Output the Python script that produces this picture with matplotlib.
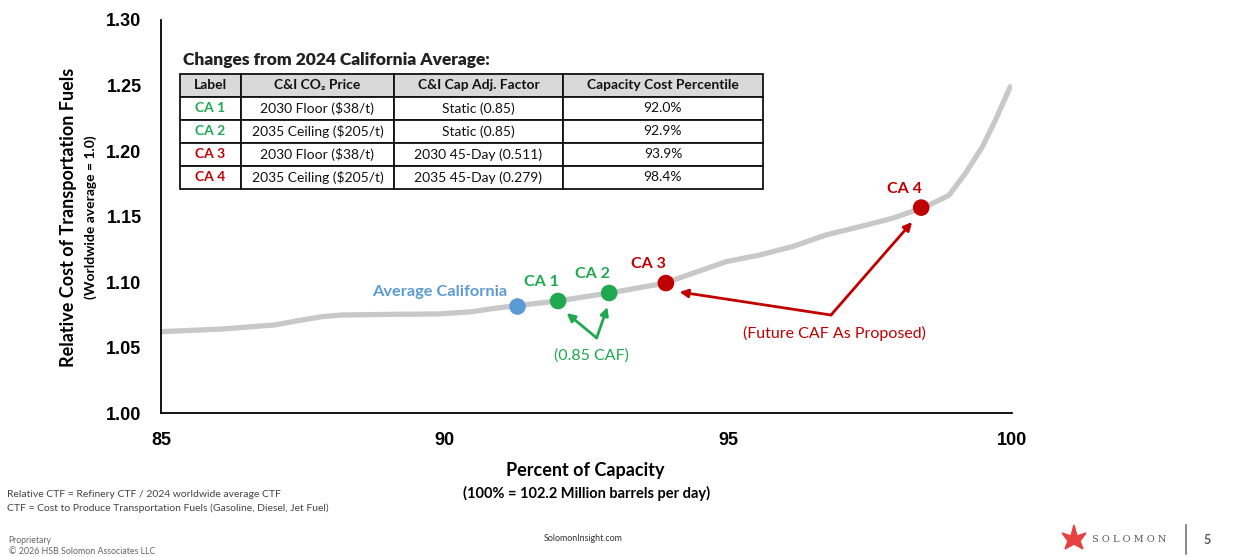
import numpy as np
import matplotlib.pyplot as plt
from matplotlib.patches import Polygon

# cost curve: percent of capacity vs relative CTF
cap_pct = [85.0, 86.07, 87.0, 87.42, 87.83, 88.18, 89.0, 89.88, 90.47, 90.88,
           91.26, 91.99, 92.9, 93.87, 94.37, 94.96, 95.55, 96.13, 96.72,
           97.31, 97.89, 98.48, 98.89, 99.18, 99.48, 99.71, 99.97]
rel_cost = [1.0621, 1.0641, 1.0672, 1.0705, 1.0735, 1.0748, 1.0753, 1.0756,
            1.0773, 1.0799, 1.0819, 1.0855, 1.0916, 1.0990, 1.1066, 1.1155,
            1.1206, 1.1270, 1.1359, 1.1422, 1.1486, 1.1575, 1.1662, 1.1830,
            1.2033, 1.2237, 1.2491]

# highlighted cases
avg_ca = (91.27, 1.0819)
case_names = ['CA 1', 'CA 2', 'CA 3', 'CA 4']
case_x = [92.0, 92.9, 93.9, 98.4]
case_y = [1.0855, 1.0916, 1.0992, 1.1568]

# table contents
col_labels = ['Label', 'C&I CO₂ Price', 'C&I Cap Adj. Factor', 'Capacity Cost Percentile']
co2_price = ['2030 Floor ($38/t)', '2035 Ceiling ($205/t)', '2030 Floor ($38/t)', '2035 Ceiling ($205/t)']
cap_factor = ['Static (0.85)', 'Static (0.85)', '2030 45-Day (0.511)', '2035 45-Day (0.279)']
percentile = ['92.0%', '92.9%', '93.9%', '98.4%']

GREEN = '#1fa84f'
RED = '#c00000'
BLUE = '#5b9bd5'
FONT = ['Lato', 'DejaVu Sans']

plt.rcParams['font.family'] = FONT

fig = plt.figure(figsize=(12.4, 5.57), dpi=100)
ax = fig.add_axes([0.1298, 0.2585, 0.6863, 0.7056])

ax.plot(cap_pct, rel_cost, color='#c8c8c8', lw=3.8, solid_capstyle='round',
        solid_joinstyle='round', zorder=2)
ax.scatter(*avg_ca, s=120, color=BLUE, zorder=3)
case_colors = [GREEN, GREEN, RED, RED]
ax.scatter(case_x, case_y, s=120, color=case_colors, zorder=3)

ax.set_xlim(85, 100)
ax.set_ylim(1.0, 1.30)
ax.set_xticks([85, 90, 95, 100])
ax.set_yticks(np.arange(1.0, 1.301, 0.05))
ax.set_yticklabels([f'{v:.2f}' for v in np.arange(1.0, 1.301, 0.05)])
ax.tick_params(length=0, pad=14)
for lab in ax.get_xticklabels() + ax.get_yticklabels():
    lab.set_fontfamily('Liberation Sans')
    lab.set_fontweight('bold')
    lab.set_fontsize(13)
ax.spines['top'].set_visible(False)
ax.spines['right'].set_visible(False)
ax.spines['left'].set_linewidth(1.3)
ax.spines['bottom'].set_linewidth(1.3)

# axis titles
fig.text(0.055, 0.61, 'Relative Cost of Transportation Fuels', rotation=90,
         ha='center', va='center', fontsize=13, fontweight='bold')
fig.text(0.073, 0.61, '(Worldwide average = 1.0)', rotation=90,
         ha='center', va='center', fontsize=10, fontweight='bold')
fig.text(0.472, 0.155, 'Percent of Capacity', ha='center', va='center',
         fontsize=13, fontweight='bold')
fig.text(0.473, 0.114, '(100% = 102.2 Million barrels per day)', ha='center',
         va='center', fontsize=10.5, fontweight='bold')

# point labels
ax.text(avg_ca[0] - 0.17, avg_ca[1] + 0.0105, 'Average California', color=BLUE,
        ha='right', va='center', fontsize=11.8, fontweight='bold')
for name, x, y, c in zip(case_names, case_x, case_y, case_colors):
    ax.text(x - 0.3, y + 0.0145, name, color=c, ha='center', va='center',
            fontsize=11.5, fontweight='bold')

# green arrows
green_vertex = (92.68, 1.0573)
for tip in [(92.15, 1.0763), (92.87, 1.0809)]:
    ax.annotate('', xy=tip, xytext=green_vertex,
                arrowprops=dict(arrowstyle='-|>', color=GREEN, lw=2,
                                mutation_scale=12, shrinkA=0, shrinkB=0))
ax.text(92.59, 1.0435, '(0.85 CAF)', color=GREEN, ha='center', va='center', fontsize=11.5)

# red arrows
red_vertex = (96.81, 1.0748)
for tip in [(94.14, 1.0924), (98.24, 1.1458)]:
    ax.annotate('', xy=tip, xytext=red_vertex,
                arrowprops=dict(arrowstyle='-|>', color=RED, lw=2,
                                mutation_scale=12, shrinkA=0, shrinkB=0))
ax.text(96.87, 1.0611, '(Future CAF As Proposed)', color=RED, ha='center',
        va='center', fontsize=11.5)

# summary table
ax.text(0.026, 0.897, 'Changes from 2024 California Average:', transform=ax.transAxes,
        ha='left', va='center', fontsize=12.5, fontweight='heavy', color='#222222')
cells = [[n, p, f, q] for n, p, f, q in zip(case_names, co2_price, cap_factor, percentile)]
widths = np.array([61, 153, 169, 200]) / 583
tbl = ax.table(cellText=cells, colLabels=col_labels, colWidths=list(widths),
               cellLoc='center', bbox=[0.0223, 0.570, 0.6851, 0.2926], zorder=5)
tbl.auto_set_font_size(False)
for (r, c), cell in tbl.get_celld().items():
    cell.set_linewidth(1.3)
    cell.set_edgecolor('#111111')
    txt = cell.get_text()
    txt.set_fontsize(10)
    txt.set_fontfamily(FONT)
    txt.set_color('#111111')
    if r == 0:
        cell.set_facecolor('#d9d9d9')
        txt.set_fontweight('bold')
    else:
        cell.set_facecolor('white')
        if c == 0:
            txt.set_fontweight('bold')
            txt.set_color(case_colors[r - 1])

# footer
fig.text(0.006, 0.113, 'Relative CTF = Refinery CTF / 2024 worldwide average CTF',
         fontsize=7.5, color='#444444', va='center')
fig.text(0.006, 0.088, 'CTF = Cost to Produce Transportation Fuels (Gasoline, Diesel, Jet Fuel)',
         fontsize=7.5, color='#444444', va='center')
fig.text(0.007, 0.029, 'Proprietary', fontsize=6.2, color='#666666', va='center')
fig.text(0.007, 0.009, '© 2026 HSB Solomon Associates LLC', fontsize=6.4,
         color='#666666', va='center')
fig.text(0.470, 0.034, 'SolomonInsight.com', fontsize=6.4, color='#333333',
         ha='center', va='center')

# logo mark
bird = Polygon([(1074, 525), (1077, 536), (1086, 533), (1080, 541), (1083, 549),
                (1074, 544), (1065, 549), (1068, 541), (1062, 533), (1071, 536)],
               closed=True, transform=None, color='#e8403f')
bird.set_xy([(x, 557 - y) for x, y in bird.get_xy()])
fig.patches.append(bird)
fig.text(1092 / 1240, 1 - 540 / 557, 'S O L O M O N', fontsize=7,
         family='DejaVu Serif', color='#555555', va='center')
fig.add_artist(plt.Line2D([1186 / 1240, 1186 / 1240], [1 - 525 / 557, 1 - 554 / 557],
                          color='#777777', lw=1.2))
fig.text(1207 / 1240, 1 - 540 / 557, '5', fontsize=9, color='#555555',
         ha='center', va='center', fontweight='bold')

fig.savefig('out.png', dpi=100)
